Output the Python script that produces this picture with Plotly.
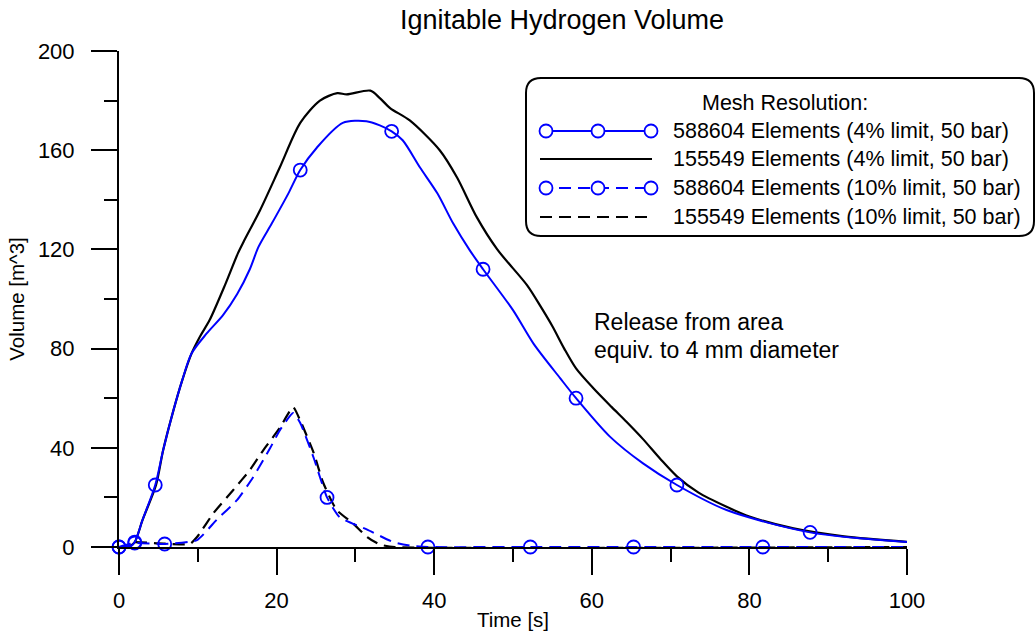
import plotly.graph_objects as go

# ---------------- data ----------------
# 588604 elements, 4% limit
t_fine_4 = [0, 1.5, 2.0, 3.0, 4.6, 5.6, 6.9, 8.0, 9.2, 11.1, 13.2, 15.0, 16.6, 17.7, 19.4, 21.5,
            23.0, 25.1, 28.4, 31.4, 33.1, 34.6, 36.0, 38.2, 40.4, 42.4, 44.5, 46.2, 50.0, 52.6,
            56.0, 58.0, 62.3, 66.5, 70.8, 77.1, 87.7, 100]
v_fine_4 = [0, 0.3, 2, 11, 25, 39, 55, 67, 78, 86, 93.5, 102, 112, 121, 130.5, 142.6,
            152, 161, 171, 171.7, 170, 167.6, 164, 153, 142.6, 130.5, 119.7, 112, 95.5, 82,
            68, 60, 44.5, 33.7, 25, 14.9, 5.9, 2.0]
t_fine_4_mark = [0, 2.0, 4.6, 23.0, 34.6, 46.2, 58.0, 70.8, 87.7]
v_fine_4_mark = [0, 2, 25, 152, 167.6, 112, 60, 25, 5.9]

# 155549 elements, 4% limit
t_coarse_4 = [0, 1.4, 2.0, 3.0, 4.7, 5.6, 6.9, 8.0, 9.2, 10.3, 11.5, 13.5, 15.1, 15.8, 17.9, 20.4,
              23.0, 25.5, 27.7, 28.9, 31.9, 33.1, 34.4, 36.9, 40.7, 42.9, 45.4, 48.0, 51.8, 53.5,
              55.0, 56.5, 58.0, 60.2, 62.5, 64.4, 66.5, 68.7, 70.8, 73.5, 77.1, 80.0, 85.6, 92.0, 100]
v_coarse_4 = [0, 0.5, 2, 11, 25, 39, 55, 67, 78, 85, 91.5, 106, 118.5, 123, 135.8, 153,
              171, 180, 183, 182.5, 184, 181, 177, 172, 160, 149, 133, 120, 105.5, 97,
              89, 80, 72, 64, 56.5, 50.5, 43.5, 35.5, 28.5, 22, 16.2, 12.3, 7.5, 4.3, 2.1]

# 588604 elements, 10% limit
t_fine_10 = [0, 2.0, 5.8, 9.9, 12.4, 15.0, 17.0, 19.2, 20.4, 22.1, 23.0, 24.7, 26.4, 28.0,
             31.5, 34.8, 37.3, 39.2, 52.2, 65.3, 81.7, 100]
v_fine_10 = [0, 1.6, 1.2, 2.8, 11, 19, 28, 40, 47, 54, 50, 36, 20, 12,
             7, 2, 0.4, 0, 0, 0, 0, 0]
t_fine_10_mark = [0, 2.0, 5.8, 26.4, 39.2, 52.2, 65.3, 81.7]
v_fine_10_mark = [0, 1.6, 1.2, 20, 0, 0, 0, 0]

# 155549 elements, 10% limit
t_coarse_10 = [2.0, 5.0, 9.0, 9.9, 12.0, 14.5, 16.6, 18.3, 20.4, 22.1, 23.0, 24.7, 25.9, 27.6,
               29.7, 31.5, 33.1, 35.0, 100]
v_coarse_10 = [2.0, 1.5, 1.2, 4, 13.7, 23, 31, 39, 48, 56.4, 51, 38, 26, 15,
               9.5, 4, 1, 0, 0]

series_names = [
    "588604 Elements (4% limit, 50 bar)",
    "155549 Elements (4% limit, 50 bar)",
    "588604 Elements (10% limit, 50 bar)",
    "155549 Elements (10% limit, 50 bar)",
]
legend_title = "Mesh Resolution:"
chart_title = "Ignitable Hydrogen Volume"
note_lines = ["Release from area", "equiv. to 4 mm diameter"]

# ---------------- style ----------------
W, H = 1036, 635
ML, MT = 119, 51
PW, PH = 788, 496
MR, MB = W - ML - PW, H - MT - PH
FONT = "Liberation Sans, Arial, Helvetica, sans-serif"
BLUE = "#0000ff"
BLACK = "#000000"
DASH = "12px,7px"
MSIZE = 13


def px(xpage):
    return (xpage - ML) / PW


def py(ypage):
    return (H - MB - ypage) / PH


fig = go.Figure()

fig.add_trace(go.Scatter(x=t_coarse_4, y=v_coarse_4, mode="lines", name=series_names[1],
                         line=dict(color=BLACK, width=2.2, shape="spline", smoothing=0.8), showlegend=False))
fig.add_trace(go.Scatter(x=t_coarse_10, y=v_coarse_10, mode="lines", name=series_names[3],
                         line=dict(color=BLACK, width=2.2, dash=DASH, shape="spline", smoothing=0.5),
                         showlegend=False))
fig.add_trace(go.Scatter(x=t_fine_4, y=v_fine_4, mode="lines", name=series_names[0],
                         line=dict(color=BLUE, width=2, shape="spline", smoothing=0.8), showlegend=False))
fig.add_trace(go.Scatter(x=t_fine_10, y=v_fine_10, mode="lines", name=series_names[2],
                         line=dict(color=BLUE, width=2, dash=DASH, shape="spline", smoothing=0.5),
                         showlegend=False))
fig.add_trace(go.Scatter(x=t_fine_4_mark, y=v_fine_4_mark, mode="markers", showlegend=False,
                         marker=dict(symbol="circle-open", size=MSIZE, color=BLUE, line=dict(width=1.8, color=BLUE)),
                         cliponaxis=False))
fig.add_trace(go.Scatter(x=t_fine_10_mark, y=v_fine_10_mark, mode="markers", showlegend=False,
                         marker=dict(symbol="circle-open", size=MSIZE, color=BLUE, line=dict(width=1.8, color=BLUE)),
                         cliponaxis=False))

axis_common = dict(
    showline=True, linecolor=BLACK, linewidth=2,
    ticks="outside", ticklen=26, tickwidth=2, tickcolor=BLACK,
    showgrid=False, zeroline=False, automargin=False,
    tickfont=dict(family=FONT, size=22, color=BLACK),
)

fig.update_xaxes(range=[0, 100], tick0=0, dtick=20, ticklabelstandoff=7,
                 minor=dict(dtick=10, ticks="outside", ticklen=13, tickwidth=2, tickcolor=BLACK),
                 title=dict(text="Time [s]", font=dict(family=FONT, size=20.5, color=BLACK), standoff=0),
                 **axis_common)
fig.update_yaxes(range=[0, 200], tick0=0, dtick=40, ticklabelstandoff=12,
                 minor=dict(dtick=20, ticks="outside", ticklen=13, tickwidth=2, tickcolor=BLACK),
                 title=dict(text="Volume [m^3]", font=dict(family=FONT, size=20.5, color=BLACK), standoff=8),
                 **axis_common)

# ---------------- legend box (drawn) ----------------
bx0, bx1, by0, by1, r = 526, 1034, 78, 236, 15
X0, X1, Y0, Y1 = px(bx0), px(bx1), py(by0), py(by1)  # Y0 top, Y1 bottom
rx, ry = r / PW, r / PH
path = (f"M {X0+rx},{Y0} L {X1-rx},{Y0} Q {X1},{Y0} {X1},{Y0-ry} "
        f"L {X1},{Y1+ry} Q {X1},{Y1} {X1-rx},{Y1} "
        f"L {X0+rx},{Y1} Q {X0},{Y1} {X0},{Y1+ry} "
        f"L {X0},{Y0-ry} Q {X0},{Y0} {X0+rx},{Y0} Z")
shapes = [dict(type="path", path=path, xref="paper", yref="paper",
               line=dict(color=BLACK, width=2), fillcolor="white", layer="above")]

row_y = [131, 159, 188, 217]
row_style = [(BLUE, None, True), (BLACK, None, False), (BLUE, DASH, True), (BLACK, DASH, False)]
lx0, lx1 = 540, 652
mark_x = [546, 598, 651]
for yy, (col, dash, mk) in zip(row_y, row_style):
    ln = dict(color=col, width=2)
    if dash:
        ln["dash"] = DASH
    shapes.append(dict(type="line", xref="paper", yref="paper",
                       x0=px(lx0), x1=px(lx1), y0=py(yy), y1=py(yy), line=ln, layer="above"))
    if mk:
        for mx in mark_x:
            shapes.append(dict(type="circle", xref="paper", yref="paper",
                               xsizemode="pixel", ysizemode="pixel",
                               xanchor=px(mx), yanchor=py(yy),
                               x0=-6.5, x1=6.5, y0=-6.5, y1=6.5,
                               line=dict(color=col, width=1.8), fillcolor="white", layer="above"))

annotations = [dict(text=legend_title, xref="paper", yref="paper", x=px(785), y=py(103),
                    xanchor="center", yanchor="middle", showarrow=False,
                    font=dict(family=FONT, size=21.5, color=BLACK))]
for yy, name in zip(row_y, series_names):
    annotations.append(dict(text=name, xref="paper", yref="paper", x=px(671), y=py(yy),
                            xanchor="left", yanchor="middle", showarrow=False,
                            font=dict(family=FONT, size=21.5, color=BLACK)))
for yy, line_text in zip([322, 350], note_lines):
    annotations.append(dict(text=line_text, xref="paper", yref="paper", x=px(592), y=py(yy),
                            xanchor="left", yanchor="middle", showarrow=False,
                            font=dict(family=FONT, size=23, color=BLACK)))

fig.update_layout(
    width=W, height=H,
    margin=dict(l=ML, r=MR, t=MT, b=MB),
    paper_bgcolor="white", plot_bgcolor="white",
    title=dict(text=chart_title, x=562 / W, xref="container", xanchor="center",
               y=1 - 20 / H, yref="container", yanchor="middle",
               font=dict(family=FONT, size=27, color=BLACK)),
    showlegend=False,
    hovermode=False,
    shapes=shapes,
    annotations=annotations,
)

# remove the default page margin so the figure sits at the window's top-left corner
fig.write_html("out.html", config={"displayModeBar": False},
               post_script="document.body.style.margin='0px';")
